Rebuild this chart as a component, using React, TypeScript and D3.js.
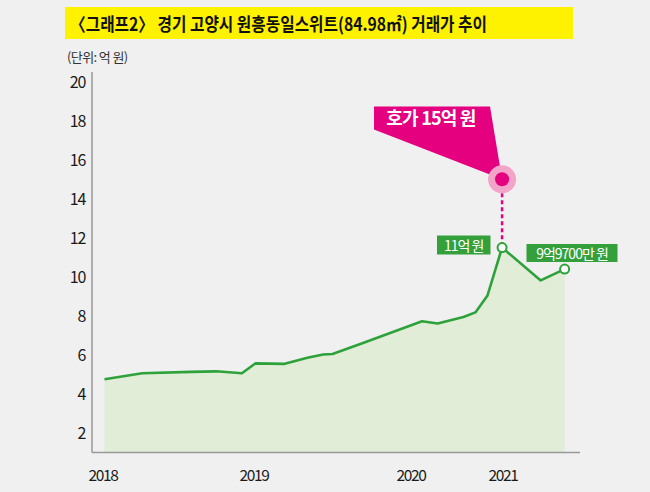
import React from "react";
import * as d3 from "d3";

// decimal year of each deal, price in 억 원
const dates = [
  2018.01, 2018.26, 2018.58, 2018.75, 2018.92, 2019.01, 2019.19, 2019.34,
  2019.44, 2019.5, 2019.69, 2020.12, 2020.29, 2020.57, 2020.7, 2020.83,
  2020.99, 2021.41, 2021.67,
];
const prices = [
  4.75, 5.06, 5.13, 5.16, 5.06, 5.57, 5.54, 5.86, 6.02, 6.05, 6.6, 7.73, 7.61,
  7.94, 8.18, 9.03, 11.5, 9.82, 10.4,
];
const yearTicks = [2018, 2019, 2020, 2021];
const yTicks = [2, 4, 6, 8, 10, 12, 14, 16, 18, 20];
const askDate = 2020.99;
const askPrice = 15;
const peakIndex = 16;
const lastIndex = 18;

const title = "〈그래프2〉 경기 고양시 원흥동일스위트(84.98㎡) 거래가 추이";
const unit = "(단위: 억 원)";
const askLabel = "호가 15억 원";
const peakLabel = "11억 원";
const lastLabel = "9억9700만 원";

const font = "'Noto Sans CJK KR', 'Noto Sans', sans-serif";
const green = "#2ea23a";
const pink = "#e4007f";

export default function App() {
  const width = 650;
  const height = 492;

  // the axis spacing in the source is uneven, so map it piece by piece
  const x = d3
    .scaleLinear()
    .domain(yearTicks)
    .range([103, 254, 411, 503]);
  const y = d3.scaleLinear().domain([1, 20.5]).range([452.5, 72]);

  const points = dates.map((d, i) => ({ d, v: prices[i] }));

  const line = d3
    .line<{ d: number; v: number }>()
    .x((p) => x(p.d))
    .y((p) => y(p.v));
  const area = d3
    .area<{ d: number; v: number }>()
    .x((p) => x(p.d))
    .y0(y(1))
    .y1((p) => y(p.v));

  const ax = x(askDate);
  const ay = y(askPrice);
  const px = x(dates[peakIndex]);
  const py = y(prices[peakIndex]);
  const lx = x(dates[lastIndex]);
  const ly = y(prices[lastIndex]);

  return (
    <svg
      width={width}
      height={height}
      style={{ position: "absolute", left: 0, top: 0 }}
      fontFamily={font}
    >
      <rect width={width} height={height} fill="#f0f0f0" />

      {/* title */}
      <rect x={65} y={7} width={508} height={32} fill="#fff200" />
      <text
        x={70}
        y={30.5}
        fontSize={18}
        fontWeight={700}
        fill="#111"
        textLength={417}
        lengthAdjust="spacingAndGlyphs"
      >
        {title}
      </text>
      <text x={67} y={61.5} fontSize={13} fill="#333" letterSpacing={-0.6}>
        {unit}
      </text>

      {/* area + line */}
      <path d={area(points) ?? ""} fill="#e1edd7" />
      <path
        d={line(points) ?? ""}
        fill="none"
        stroke={green}
        strokeWidth={2.6}
        strokeLinejoin="round"
      />

      {/* axes */}
      <line x1={92} x2={92} y1={72} y2={y(1)} stroke="#999" strokeWidth={1.5} />
      <line x1={92} x2={580} y1={y(1)} y2={y(1)} stroke="#999" strokeWidth={1.5} />
      {yTicks.map((t) => (
        <text
          key={t}
          x={85}
          y={y(t)}
          dy="0.36em"
          textAnchor="end"
          fontSize={16}
          fill="#1a1a1a"
          letterSpacing={-1.3}
        >
          {t}
        </text>
      ))}
      {yearTicks.map((t) => (
        <text
          key={t}
          x={x(t)}
          y={481}
          textAnchor="middle"
          fontSize={15.5}
          fill="#1a1a1a"
          letterSpacing={-1.3}
        >
          {t}
        </text>
      ))}

      {/* asking price callout */}
      <line
        x1={ax}
        x2={ax}
        y1={ay}
        y2={py}
        stroke={pink}
        strokeWidth={2.5}
        strokeDasharray="4,3"
      />
      <path
        d={`M374,106.5 L490,106.5 L${ax},${ay} L374,129.5 Z`}
        fill={pink}
      />
      <text
        x={431}
        y={124.5}
        textAnchor="middle"
        fontSize={18}
        fontWeight={700}
        fill="#fff"
        letterSpacing={-0.8}
      >
        {askLabel}
      </text>
      <circle cx={ax} cy={ay} r={14} fill="#f2a5c9" />
      <circle cx={ax} cy={ay} r={7} fill={pink} />

      {/* point labels */}
      <rect x={437} y={235.5} width={53.5} height={19} fill="#34a03c" />
      <text
        x={463.7}
        y={250.5}
        textAnchor="middle"
        fontSize={14}
        fill="#fff"
        letterSpacing={-1}
      >
        {peakLabel}
      </text>
      <rect x={526.5} y={244} width={91} height={18} fill="#34a03c" />
      <text
        x={572}
        y={258.5}
        textAnchor="middle"
        fontSize={14}
        fill="#fff"
        letterSpacing={-1}
      >
        {lastLabel}
      </text>
      <circle cx={px} cy={py} r={4.5} fill="#fff" stroke={green} strokeWidth={2} />
      <circle cx={lx} cy={ly} r={4.5} fill="#fff" stroke={green} strokeWidth={2} />
    </svg>
  );
}
